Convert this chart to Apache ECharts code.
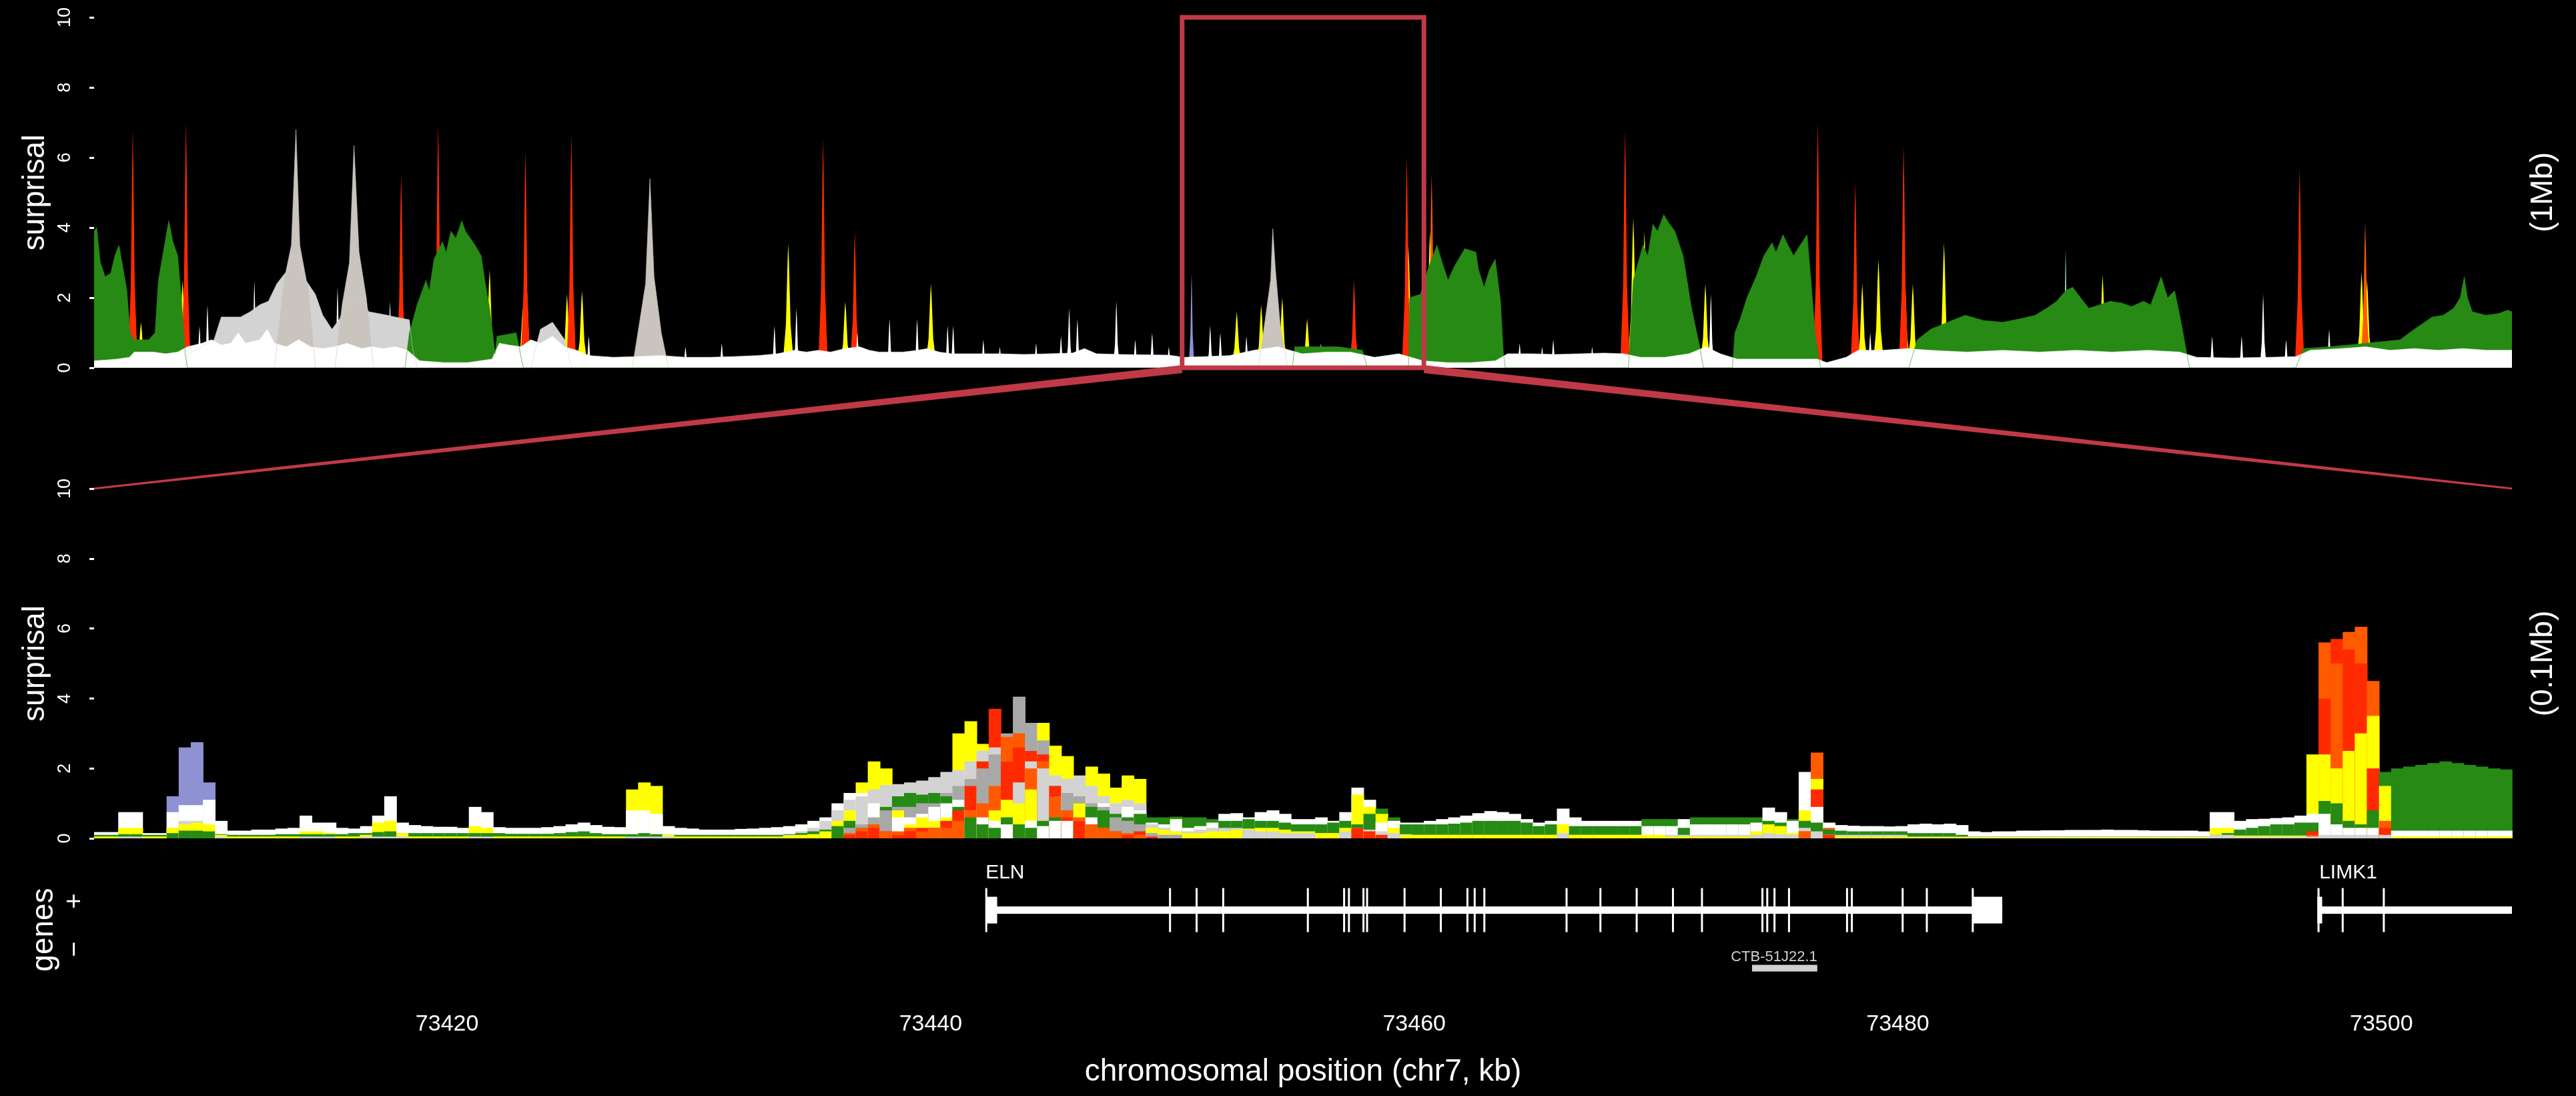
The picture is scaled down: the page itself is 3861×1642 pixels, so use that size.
<!DOCTYPE html>
<html><head><meta charset="utf-8">
<script src="https://cdn.jsdelivr.net/npm/echarts@6/dist/echarts.min.js"></script>
<style>html,body{margin:0;padding:0;background:#000;}#c{width:3861px;height:1642px;}</style>
</head><body><div id="c"></div>
<script>
// ---------------- DATA ----------------
const TOP_RANGE = [72955.4, 73955.4];       // 1 Mb view (kb)
const ZOOM_RANGE = [73405.4, 73505.4];      // 0.1 Mb view (kb)
const Y_TICKS_MAX = 10;
const X_TICK_LABELS = [73420, 73440, 73460, 73480, 73500];
const BIN_START = 73405.4;
const BIN_WIDTH = 0.5;

// top panel (1 Mb): broad areas [kb, surprisal]
const topGreen = [
[72955.4,3.9],[72956.5,4.0],[72958,3.0],[72960,2.6],[72962.3,2.7],[72964,3.2],[72965.7,3.5],[72967,3.0],[72969,2.2],[72970.3,1.0],[72972,0.8],[72978,0.8],[72980.6,1.0],[72982,2.5],[72984.5,3.5],[72986.3,4.2],[72988,3.6],[72990,3.2],[72991.5,2.0],[72993.1,0.4],[72994,0],
[73084,0],[73085.8,1.0],[73089,1.8],[73092.7,2.5],[73094,2.2],[73096,3.1],[73099.5,3.6],[73101,3.3],[73103,3.9],[73105,3.7],[73107.5,4.2],[73109,3.9],[73111,3.7],[73113,3.5],[73115.5,3.2],[73117,2.5],[73119,1.7],[73121.3,0.4],[73122,0.9],[73130,1.0],[73132,0.3],[73133,0],
[73451,0],[73452,0.6],[73470,0.6],[73480,0.5],[73482,0],
[73499,0],[73499.5,2.0],[73504,2.1],[73507,2.8],[73510.8,3.5],[73513,3.0],[73515.4,2.5],[73518,2.9],[73522.3,3.4],[73526.9,3.3],[73528,2.8],[73530.3,2.3],[73532.5,2.8],[73534.9,3.1],[73537.1,1.9],[73538.3,0.4],[73539,0],
[73590,0],[73592,2.5],[73596,3.5],[73598,3.2],[73600.1,4.1],[73602,3.9],[73604.6,4.37],[73607,4.1],[73609.2,3.9],[73612.6,3.2],[73616.1,1.7],[73619.5,0.6],[73621,0],
[73633,0],[73634,1.0],[73636.1,1.37],[73639,2.0],[73642.8,2.6],[73646,3.2],[73649.4,3.57],[73651,3.3],[73653.9,3.8],[73656,3.5],[73658.3,3.2],[73661,3.5],[73663.9,3.8],[73665.5,2.5],[73667.2,1.0],[73669.4,0],
[73706,0],[73709.4,0.8],[73715,1.1],[73722,1.3],[73729.3,1.5],[73737,1.35],[73744.9,1.3],[73752,1.4],[73758.2,1.5],[73763,1.7],[73767.1,1.9],[73770.8,2.2],[73773.7,2.3],[73777,2.0],[73780.4,1.7],[73785,1.8],[73789.2,1.9],[73794,1.85],[73798.1,1.75],[73803,1.9],[73806,1.8],[73810.3,2.6],[73813,2.0],[73815.9,2.2],[73818,1.5],[73820.3,0.65],[73822,0],
[73866,0],[73869.1,0.55],[73880,0.6],[73895,0.7],[73909.1,0.8],[73915,1.1],[73922.4,1.45],[73927,1.5],[73931.3,1.7],[73934,2.0],[73935.7,2.6],[73937,2.0],[73939,1.6],[73944.6,1.5],[73950,1.55],[73953.5,1.65],[73955.4,1.6]
];
const topLightGray = [
[72993,0],[72994.3,0.4],[73000,0.6],[73005,0.8],[73008,1.45],[73012,1.45],[73016,1.45],[73020,1.6],[73024,1.8],[73027.5,1.9],[73031,2.4],[73035.5,2.8],[73037,3.2],[73040,3.2],[73043,2.5],[73046.9,2.1],[73050,1.5],[73053.8,1.1],[73057,1.4],[73059,1.7],[73066,2.0],[73069,1.6],[73073,1.55],[73076.7,1.5],[73080,1.45],[73085.8,1.37],[73087,0.6],[73089,0],
[73136,0],[73140,1.1],[73145,1.3],[73150,0.8],[73153,0]
];
const topGray = [
[73030,0],[73034,2.5],[73037,3.5],[73038.9,6.8],[73040.5,3.5],[73044,2.2],[73047,0],
[73055,0],[73058,1.8],[73061,3.0],[73062.9,6.35],[73065,3.3],[73068,2.0],[73071,0],
[73178,0],[73181,1.3],[73183.5,2.4],[73185.3,5.4],[73187,2.6],[73190,1.0],[73193,0],
[73437,0],[73440,1.5],[73442,2.5],[73442.9,3.97],[73444,2.8],[73446,1.2],[73449,0]
];
const topWhite = [
[72955.4,0.2],[72960,0.22],[72965,0.25],[72970,0.3],[72972,0.45],[72980,0.45],[72985,0.4],[72990,0.45],[72994,0.6],[73000,0.7],[73004,0.8],[73008,0.65],[73012,0.7],[73015,1.0],[73018,0.7],[73024,0.8],[73027,1.1],[73030,0.7],[73035,0.6],[73040,0.8],[73045,0.6],[73050,0.55],[73055,0.6],[73060,0.7],[73066,0.55],[73070,0.6],[73075,0.55],[73080,0.6],[73085,0.5],[73090,0.2],[73100,0.15],[73110,0.15],[73120,0.25],[73123,0.7],[73127,0.65],[73132,0.6],[73136,0.8],[73140,0.7],[73145,0.9],[73150,0.6],[73155,0.5],[73160,0.35],[73170,0.3],[73180,0.32],[73190,0.35],[73200,0.3],[73210,0.3],[73220,0.32],[73230,0.35],[73238,0.4],[73245,0.5],[73250,0.45],[73255,0.5],[73260,0.45],[73266,0.55],[73272,0.6],[73276,0.5],[73280,0.45],[73290,0.45],[73296,0.5],[73300,0.55],[73305,0.45],[73310,0.4],[73320,0.4],[73330,0.4],[73340,0.38],[73350,0.4],[73360,0.42],[73365,0.55],[73370,0.4],[73380,0.38],[73390,0.37],[73400,0.36],[73406,0.3],[73415,0.32],[73425,0.35],[73435,0.5],[73445,0.6],[73455,0.4],[73465,0.45],[73475,0.45],[73485,0.3],[73495,0.4],[73505,0.2],[73515,0.15],[73525,0.15],[73535,0.2],[73540,0.4],[73550,0.4],[73560,0.38],[73570,0.4],[73580,0.42],[73588,0.4],[73595,0.3],[73605,0.3],[73615,0.4],[73622,0.6],[73628,0.4],[73635,0.25],[73650,0.25],[73668,0.25],[73672,0.15],[73680,0.3],[73685,0.5],[73695,0.5],[73705,0.55],[73715,0.5],[73730,0.45],[73745,0.5],[73760,0.45],[73775,0.5],[73790,0.45],[73805,0.5],[73818,0.45],[73825,0.3],[73840,0.28],[73855,0.3],[73866,0.32],[73872,0.5],[73885,0.55],[73895,0.6],[73905,0.5],[73915,0.55],[73925,0.5],[73935,0.55],[73945,0.5],[73955.4,0.5]
];
// top panel narrow peaks [kb, surprisal]
const topRedSpikes = [[72971.4,6.8],[72993.4,7.0],[73082.4,5.55],[73097.7,6.95],[73133.8,6.2],[73152.8,6.65],[73256.9,6.55],[73270,3.9],[73476.5,2.5],[73498.3,6.0],[73588.6,6.75],[73668.3,7.0],[73683.8,5.3],[73703.8,6.35],[73867.6,5.7]];
const topOrangeSpikes = [[73443,3.3],[73508.6,5.55],[73894.7,4.15]];
const topYellowSpikes = [[72971.9,2.5],[72974.8,1.3],[72992,2.5],[73098.2,3.0],[73119,2.8],[73132.7,1.7],[73134.3,2.4],[73151,2.1],[73157.2,2.2],[73242.5,3.55],[73266.1,1.9],[73301.5,2.4],[73428,1.6],[73438.1,1.8],[73446.8,2.0],[73457.1,1.4],[73499,3.5],[73507.9,3.9],[73592,4.3],[73596.6,3.9],[73601.2,2.1],[73621.8,2.4],[73686.7,2.4],[73693.4,3.1],[73704.3,2.6],[73707.6,2.4],[73720.5,3.57],[73786.1,2.65],[73893.2,2.75],[73895.5,2.5]];
const topWhiteSpikes = [[72999,1.2],[73002.3,1.8],[73013,1.4],[73021.7,2.5],[73033,1.6],[73056.1,2.3],[73069,1.3],[73077.8,1.9],[73128,1.0],[73145.3,1.0],[73160,0.9],[73200,0.6],[73215,0.7],[73236.8,1.2],[73245.9,1.7],[73271.1,1.0],[73284.4,1.4],[73295.8,1.4],[73308.4,1.2],[73310.7,1.2],[73323.2,0.8],[73330,0.6],[73345,0.7],[73355.3,0.9],[73358.7,1.7],[73362.1,1.4],[73378.2,1.9],[73386,0.8],[73393,1.0],[73399.9,0.6],[73417,1.2],[73421.2,1.0],[73432,0.9],[73462.8,0.7],[73545,0.7],[73554.3,0.6],[73558.9,0.8],[73575,0.6],[73624.1,2.1],[73640,0.9],[73690,1.0],[73735,0.9],[73760,1.0],[73800,1.1],[73831.4,0.9],[73843.6,0.9],[73852.5,2.1],[73862,0.8],[73879.8,1.1],[73909.1,0.8],[73920,1.0],[73940,1.2],[73950,0.9]];
const topBlueSpikes = [[73409.3,2.7]];
const topTealSpikes = [[73770.8,3.4]];

// bottom panel (0.1 Mb): 200 bins of 0.5 kb
const botWhite = [
.18,.18,.75,.75,.15,.15,.75,.95,.95,1.1,.5,.22,.22,.25,.25,.28,.3,.65,.45,.45,
.3,.28,.35,.65,1.2,.45,.38,.35,.33,.33,.3,.9,.75,.32,.3,.3,.3,.32,.35,.4,
.45,.38,.33,.32,.8,.8,.7,.35,.3,.28,.25,.25,.25,.27,.28,.3,.32,.35,.4,.5,
.6,1,1.3,1.3,1,.9,.6,.6,.7,.9,1,1.1,.8,.6,.5,.4,.4,.5,.35,.5,
.5,.5,.6,1,1,.9,.8,.45,.4,.55,.3,.35,.45,.7,.72,.6,.75,.8,.7,.55,
.55,.6,.5,.75,1.45,1.1,.45,.5,.45,.45,.5,.55,.6,.65,.72,.78,.75,.7,.55,.45,
.5,.85,.6,.5,.5,.5,.5,.5,.35,.35,.35,.55,.4,.4,.4,.4,.4,.45,.88,.75,
.5,1.9,.9,.45,.38,.36,.35,.35,.34,.35,.4,.42,.4,.42,.38,.2,.18,.2,.2,.22,
.22,.23,.23,.24,.24,.24,.25,.24,.24,.23,.22,.22,.22,.22,.2,.75,.75,.5,.55,.56,
.58,.6,.65,.7,.7,.4,.3,.3,.3,.5,.22,.22,.22,.22,.22,.22,.22,.22,.22,.22];
const botGreen = [
.1,.1,.12,.12,.1,.1,.15,.22,.22,.2,.12,.1,.1,.1,.1,.12,.12,.12,.12,.12,
.12,.15,.15,.18,.2,.15,.15,.15,.15,.15,.15,.15,.15,.15,.13,.13,.13,.13,.15,.18,
.2,.15,.12,.12,.12,.15,.12,.1,.1,.1,.1,.1,.1,.1,.1,.1,.1,.12,.15,.2,
.25,.35,.5,.3,.4,.9,1.2,1.3,1.25,1.3,1.2,.9,.6,.4,.3,.6,.4,.3,.5,.6,
.8,1,.9,.8,.7,.6,.7,.6,.6,.62,.6,.6,.55,.5,.5,.55,.5,.5,.45,.4,
.4,.4,.45,.5,.4,.7,.85,.6,.4,.4,.4,.4,.42,.45,.5,.5,.5,.5,.45,.35,
.4,.4,.35,.35,.35,.35,.35,.35,.55,.55,.55,.3,.6,.6,.6,.6,.6,.6,.5,.45,
.55,.5,.45,.25,.22,.2,.2,.2,.2,.2,.15,.15,.15,.15,.1,.05,.05,.05,.05,.05,
.05,.05,.05,.05,.05,.05,.05,.05,.05,.05,.05,.05,.05,.05,.05,.1,.15,.25,.3,.35,
.4,.4,.45,.45,1.07,1,.5,.4,.8,1.9,2,2.05,2.1,2.15,2.2,2.15,2.1,2.05,2,1.97];
const botLightGray = [
.05,.05,.05,.05,.05,.05,.3,.5,.5,.4,.05,.05,.05,.05,.05,.05,.05,.05,.05,.05,
.05,.05,.05,.05,.05,.05,.05,.05,.05,.05,.05,.05,.05,.05,.05,.05,.05,.05,.05,.05,
.05,.05,.05,.05,.05,.05,.05,.05,.05,.05,.05,.05,.05,.05,.05,.05,.05,.1,.2,.3,
.5,.8,1.1,1.2,1.4,1.52,1.55,1.6,1.65,1.75,1.9,1.95,2.2,2.5,2.6,2.2,1.6,2.2,2,1.8,
1.7,1.8,1.5,1.2,1,1.1,1,.4,.3,.2,.2,.25,.3,.3,.3,.25,.2,.2,.15,.15,
.15,.15,.15,.2,.3,.25,.2,.15,.12,.1,.1,.1,.1,.1,.1,.1,.1,.1,.1,.1,
.1,.15,.1,.1,.1,.1,.1,.1,.1,.1,.1,.1,.1,.1,.1,.1,.1,.1,.15,.12,
.1,.3,.2,.1,.1,.1,.1,.1,.1,.1,.05,.05,.05,.05,.05,.05,.05,.05,.05,.05,
.05,.05,.05,.05,.05,.05,.05,.05,.05,.05,.05,.05,.05,.05,.05,.1,.1,.05,.05,.05,
.05,.05,.05,.05,.1,.1,.1,.1,.1,.1,.05,.05,.05,.05,.05,.05,.05,.05,.05,.05];
const botGray = [
0,0,0,0,0,0,0,0,0,0,0,0,0,0,0,0,0,0,0,0,
0,0,0,0,0,0,0,0,0,0,0,0,0,0,0,0,0,0,0,0,
0,0,0,0,0,0,0,0,0,0,0,0,0,0,0,0,0,0,0,0,
0,0,.3,.4,.6,.8,.9,.9,1,1,1.3,1.5,1.7,2,2.4,3,4.05,3.3,2.8,1.5,
1.3,1.2,1,.9,.6,.5,.4,.15,.1,.1,0,0,0,0,0,0,0,0,0,0,
0,0,0,0,0,0,0,0,0,0,0,0,0,0,0,0,0,0,0,0,
0,0,0,0,0,0,0,0,0,0,0,0,0,0,0,0,0,0,0,0,
0,0,0,0,0,0,0,0,0,0,0,0,0,0,0,0,0,0,0,0,
0,0,0,0,0,0,0,0,0,0,0,0,0,0,0,0,0,0,0,0,
0,0,0,0,0,0,0,0,0,0,0,0,0,0,0,0,0,0,0,0];
const botYellow = [
.05,.05,.3,.3,.05,.05,.3,.4,.45,.4,.1,.05,.05,.05,.05,.05,.05,.2,.2,.15,
.05,.05,.1,.45,.5,.15,.05,.05,.05,.05,.05,.35,.3,.05,.05,.05,.05,.05,.05,.05,
.05,.05,.05,.05,1.4,1.6,1.5,.1,.05,.05,.05,.05,.05,.05,.05,.05,.05,.08,.1,.12,
.2,.5,.8,1.6,2.2,2,.8,.4,.6,.5,.6,3,3.35,2.7,.8,1.1,1,1.4,3.3,2.65,
2.35,1,2.05,1.85,1.45,1.8,1.7,.3,.25,.2,.15,.15,.2,.2,.25,.28,.3,.3,.25,.2,
.2,.15,.15,.3,1.25,.9,.7,.3,.1,.1,.1,.1,.1,.1,.1,.1,.1,.1,.1,.1,
.1,.4,.1,.1,.1,.1,.1,.1,.1,.1,.05,.05,.05,.05,.05,.05,.05,.2,.4,.35,
.15,.8,1.7,.1,.05,.05,.05,.05,.05,.05,.03,.03,.03,.03,.03,.03,.03,.03,.03,.03,
.03,.03,.03,.03,.03,.03,.03,.03,.03,.03,.03,.03,.03,.03,.03,.3,.3,.08,.08,.08,
.08,.08,.08,2.4,2.4,2,2.5,3,3.5,1.5,.05,.05,.05,.05,.05,.05,.05,.05,.05,.05];
const botRed = [
0,0,0,0,0,0,0,0,0,0,0,0,0,0,0,0,0,0,0,0,
0,0,0,0,0,0,0,0,0,0,0,0,0,0,0,0,0,0,0,0,
0,0,0,0,0,0,0,0,0,0,0,0,0,0,0,0,0,0,0,0,
0,0,.1,.2,.3,.2,.1,.2,.3,.3,.5,.8,1.5,2.2,3.7,2.2,2.6,2.5,2.4,1.5,
.6,.5,.4,.3,.2,.1,.2,.05,0,0,0,0,0,0,0,0,0,0,0,0,
0,0,0,0,.3,.2,.1,0,0,0,0,0,0,0,0,0,0,0,0,0,
0,0,0,0,0,0,0,0,0,0,0,0,0,0,0,0,0,0,0,0,
0,.2,1.4,.1,0,0,0,0,0,0,0,0,0,0,0,0,0,0,0,0,
0,0,0,0,0,0,0,0,0,0,0,0,0,0,0,0,0,0,0,0,
0,0,0,.2,4,5.7,5.4,5,2,.3,0,0,0,0,0,0,0,0,0,0];
const botOrange = [
0,0,0,0,0,0,0,0,0,0,0,0,0,0,0,0,0,0,0,0,
0,0,0,0,0,0,0,0,0,0,0,0,0,0,0,0,0,0,0,0,
0,0,0,0,0,0,0,0,0,0,0,0,0,0,0,0,0,0,0,0,
0,0,.15,.3,.4,.2,.2,.3,.2,.3,.3,.5,.8,1,1.5,2.9,3,2,2.2,1.2,
.8,.6,.4,.3,.2,.15,.1,0,0,0,0,0,0,0,0,0,0,0,0,0,
0,0,0,0,0,0,0,0,0,0,0,0,0,0,0,0,0,0,0,0,
0,0,0,0,0,0,0,0,0,0,0,0,0,0,0,0,0,0,0,0,
0,.2,2.45,.3,0,0,0,0,0,0,0,0,0,0,0,0,0,0,0,0,
0,0,0,0,0,0,0,0,0,0,0,0,0,0,0,0,0,0,0,0,
0,0,0,.1,5.6,5,5.9,6.05,4.5,.5,0,0,0,0,0,0,0,0,0,0];
const botBlue = [
0,0,0,0,0,0,1.2,2.6,2.75,1.6,0,0,0,0,0,0,0,0,0,0,
0,0,0,0,0,0,0,0,0,0,0,0,0,0,0,0,0,0,0,0,
0,0,0,0,0,0,0,0,0,0,0,0,0,0,0,0,0,0,0,0,
0,0,0,0,0,0,0,0,0,0,0,0,0,0,0,0,0,0,0,0,
0,0,0,0,0,0,0,0,0,0,0,0,0,0,0,0,0,0,0,0,
0,0,0,0,0,0,0,0,0,0,0,0,0,0,0,0,0,0,0,0,
0,0,0,0,0,0,0,0,0,0,0,0,0,0,0,0,0,0,0,0,
0,0,0,0,0,0,0,0,0,0,0,0,0,0,0,0,0,0,0,0,
0,0,0,0,0,0,0,0,0,0,0,0,0,0,0,0,0,0,0,0,
0,0,0,0,0,0,0,0,0,0,0,0,0,0,0,0,0,0,0,0];

// genes track
const geneNames = ['ELN', 'CTB-51J22.1', 'LIMK1'];
const geneStarts = [73442.27, 73473.97, 73497.43];
const geneEnds = [73484.32, 73476.67, 73505.4];
const geneStrands = [1, -1, 1];
const elnExons = [73442.3,73449.9,73451.0,73452.1,73455.6,73457.1,73457.3,73457.9,73458.05,73459.6,73461.1,73462.2,73462.5,73462.9,73466.3,73467.7,73469.2,73470.7,73471.9,73474.4,73474.6,73474.9,73475.5,73477.9,73478.1,73480.2,73481.2,73483.1];
const limk1Exons = [73497.4,73498.4,73500.1];
const elnUtrs = [[73442.27,73442.75],[73483.13,73484.32]];
const limk1Utrs = [[73497.35,73497.55]];
const geneExons = [elnExons, [], limk1Exons];
const geneUtrs = [elnUtrs, [], limk1Utrs];

// ---------------- STYLE ----------------
const FONT = 'Liberation Sans, Arial, Helvetica, sans-serif';
const COL = {white:'#ffffff', green:'#268a14', lgray:'#d3d3d3', gray:'#a8a8a8', tan:'#c9c4bd',
  yellow:'#ffff00', red:'#ff2a00', orange:'#ff5a00', blue:'#8e92d2', teal:'#9fd6c6', box:'#bf3a46'};

const botSeries = [
  {data: botWhite, color: COL.white}, {data: botGreen, color: COL.green},
  {data: botLightGray, color: COL.lgray}, {data: botGray, color: COL.gray},
  {data: botYellow, color: COL.yellow}, {data: botRed, color: COL.red},
  {data: botOrange, color: COL.orange}, {data: botBlue, color: COL.blue}
];

function areaSeries(list, color) {
  return {type:'line', xAxisIndex:0, yAxisIndex:0, data:list, symbol:'none', showSymbol:false,
    silent:true, animation:false, lineStyle:{width:0.6, color:color}, areaStyle:{color:color, opacity:1}};
}
function spikeSeries(list, color, hw) {
  return {type:'custom', xAxisIndex:0, yAxisIndex:0, data:list, silent:true, animation:false,
    renderItem: function (params, api) {
      const x = api.value(0), h = api.value(1);
      const pts = [api.coord([x - hw, 0]), api.coord([x - hw * 0.4, h * 0.35]), api.coord([x - hw * 0.12, h * 0.85]),
        api.coord([x, h]), api.coord([x + hw * 0.12, h * 0.85]), api.coord([x + hw * 0.4, h * 0.35]), api.coord([x + hw, 0])];
      return {type:'polygon', shape:{points:pts}, style:{fill:color}};
    }};
}
function renderBins(params, api) {
  const i = params.dataIndex;
  const x0 = api.value(0), x1 = x0 + BIN_WIDTH;
  const items = botSeries.map(s => ({v: s.data[i], c: s.color})).filter(d => d.v > 0)
    .sort((a, b) => b.v - a.v);
  const children = items.map(d => {
    const p0 = api.coord([x0, d.v]), p1 = api.coord([x1, 0]);
    return {type:'rect', shape:{x:p0[0], y:p0[1], width:p1[0] - p0[0] + 0.8, height:p1[1] - p0[1]},
      style:{fill:d.c}};
  });
  return {type:'group', children};
}
function renderGene(params, api) {
  const i = params.dataIndex;
  const y = geneStrands[i];
  const s = api.coord([geneStarts[i], y]), e = api.coord([geneEnds[i], y]);
  const ch = [];
  if (y > 0) {
    ch.push({type:'rect', shape:{x:s[0], y:s[1] - 5.5, width:e[0] - s[0], height:11}, style:{fill:'#fff'}});
    geneUtrs[i].forEach(u => {
      const a = api.coord([u[0], y]), b = api.coord([u[1], y]);
      ch.push({type:'rect', shape:{x:a[0], y:a[1] - 20, width:Math.max(b[0] - a[0], 3), height:40}, style:{fill:'#fff'}});
    });
    geneExons[i].forEach(x => {
      const p = api.coord([x, y]);
      ch.push({type:'rect', shape:{x:p[0] - 1.5, y:p[1] - 33, width:3, height:66}, style:{fill:'#fff'}});
    });
    ch.push({type:'text', x:s[0], y:s[1] - 56, style:{text:geneNames[i], fill:'#fff', fontSize:30,
      fontFamily:FONT, align:'left', verticalAlign:'middle'}});
  } else {
    ch.push({type:'rect', shape:{x:s[0], y:s[1] - 5, width:e[0] - s[0], height:10}, style:{fill:'#d0d0d0'}});
    ch.push({type:'text', x:e[0], y:s[1] - 17, style:{text:geneNames[i], fill:'#d0d0d0', fontSize:22,
      fontFamily:FONT, align:'right', verticalAlign:'middle'}});
  }
  return {type:'group', children:ch};
}

function surprisalAxis(gridIndex) {
  return {type:'value', gridIndex, min:0, max:Y_TICKS_MAX, interval:2,
    axisLine:{show:false}, splitLine:{show:false},
    axisTick:{show:true, length:7, lineStyle:{color:'#fff', width:3}},
    axisLabel:{color:'#fff', fontSize:27, fontFamily:FONT, rotate:90, align:'center', verticalAlign:'bottom', margin:30},
    name:'surprisal', nameLocation:'middle', nameGap:56,
    nameTextStyle:{color:'#fff', fontSize:46, fontFamily:FONT}};
}

const chart = echarts.init(document.getElementById('c'), null, {width:3861, height:1642});
chart.setOption({
  backgroundColor:'#000',
  animation:false,
  grid:[
    {left:141, right:96, top:26, height:525},
    {left:141, right:96, top:732, height:524},
    {left:141, right:96, top:1320, height:174}
  ],
  xAxis:[
    {type:'value', gridIndex:0, min:TOP_RANGE[0], max:TOP_RANGE[1], show:false},
    {type:'value', gridIndex:1, min:ZOOM_RANGE[0], max:ZOOM_RANGE[1], show:false},
    {type:'value', gridIndex:2, min:ZOOM_RANGE[0], max:ZOOM_RANGE[1],
      axisLine:{show:false}, axisTick:{show:false}, splitLine:{show:false},
      axisLabel:{customValues:X_TICK_LABELS, formatter:v => String(v), color:'#fff', fontSize:34, fontFamily:FONT, margin:24},
      name:'chromosomal position (chr7, kb)', nameLocation:'middle', nameGap:89,
      nameTextStyle:{color:'#fff', fontSize:46, fontFamily:FONT}}
  ],
  yAxis:[
    surprisalAxis(0), surprisalAxis(1),
    {type:'value', gridIndex:2, min:-2, max:2, show:false}
  ],
  series:[
    areaSeries(topLightGray, COL.lgray),
    areaSeries(topGreen, COL.green),
    areaSeries(topGray, COL.tan),
    spikeSeries(topYellowSpikes, COL.yellow, 2.4),
    spikeSeries(topOrangeSpikes, COL.orange, 2.0),
    spikeSeries(topRedSpikes, COL.red, 2.0),
    spikeSeries(topBlueSpikes, COL.blue, 1.2),
    spikeSeries(topTealSpikes, COL.teal, 1.2),
    areaSeries(topWhite, COL.white),
    spikeSeries(topWhiteSpikes, COL.white, 1.4),
    {type:'custom', xAxisIndex:1, yAxisIndex:1, silent:true, animation:false,
      data: botWhite.map((v, i) => [BIN_START + i * BIN_WIDTH, i]),
      encode:{x:0}, renderItem: renderBins},
    {type:'custom', xAxisIndex:2, yAxisIndex:2, silent:true, animation:false,
      data: geneStarts.map((s, i) => [s, geneStrands[i], i]),
      encode:{x:0, y:1}, renderItem: renderGene}
  ]
});

// zoom box and connectors, positioned through the axes' own scales
const tl = chart.convertToPixel({xAxisIndex:0, yAxisIndex:0}, [ZOOM_RANGE[0], Y_TICKS_MAX]);
const br = chart.convertToPixel({xAxisIndex:0, yAxisIndex:0}, [ZOOM_RANGE[1], 0]);
const bl2 = chart.convertToPixel({xAxisIndex:1, yAxisIndex:1}, [ZOOM_RANGE[0], Y_TICKS_MAX]);
const br2 = chart.convertToPixel({xAxisIndex:1, yAxisIndex:1}, [ZOOM_RANGE[1], Y_TICKS_MAX]);

function txt(text, x, y, size, rot) {
  return {type:'text', x, y, rotation:rot || 0, z:100,
    style:{text, fill:'#fff', fontSize:size, fontFamily:FONT, align:'center', verticalAlign:'middle'}};
}
chart.setOption({graphic:[
  {type:'polygon', z:90, shape:{points:[[tl[0], br[1] - 4], [tl[0], br[1] + 8], [bl2[0], bl2[1] + 1.5], [bl2[0], bl2[1] - 1.5]]}, style:{fill:COL.box}},
  {type:'polygon', z:90, shape:{points:[[br[0], br[1] - 4], [br[0], br[1] + 8], [br2[0], br2[1] + 1.5], [br2[0], br2[1] - 1.5]]}, style:{fill:COL.box}},
  {type:'rect', z:91, shape:{x:tl[0], y:tl[1], width:br[0] - tl[0], height:br[1] - tl[1]},
    style:{fill:'none', stroke:COL.box, lineWidth:7}},
  txt('(1Mb)', 3812, 288, 46, Math.PI / 2),
  txt('(0.1Mb)', 3812, 994, 46, Math.PI / 2),
  txt('genes', 66, 1393, 46, Math.PI / 2),
  txt('+', 113, 1350, 40, Math.PI / 2),
  txt('\u2212', 113, 1422, 40, Math.PI / 2)
]});
</script></body></html>
